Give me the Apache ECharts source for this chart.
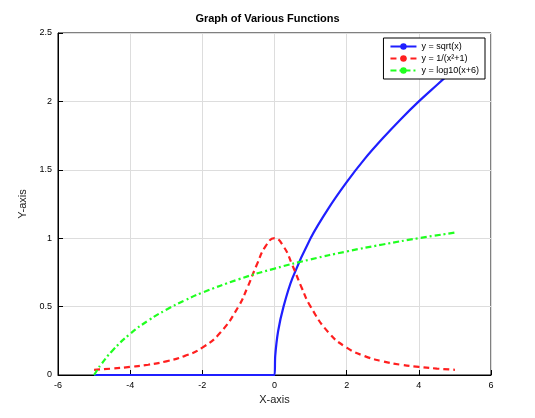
<!DOCTYPE html>
<html>
<head>
<meta charset="utf-8">
<script src="https://cdn.jsdelivr.net/npm/echarts@6/dist/echarts.min.js"></script>
<style>html,body{margin:0;padding:0;background:#fff}#main{width:535px;height:418px}</style>
</head>
<body>
<div id="main"></div>
<script>
// values
var sqrtX = [-5, -4, -3, -2, -1, 0, 0.02, 0.1, 0.25, 0.5, 1, 1.5, 2, 2.5, 3, 3.5, 4, 4.5, 5];
var sqrtY = [0, 0, 0, 0, 0, 0, 0.14, 0.32, 0.5, 0.71, 1, 1.22, 1.41, 1.58, 1.73, 1.87, 2, 2.12, 2.24];
var recipX = [-5, -4.5, -4, -3.5, -3, -2.5, -2, -1.5, -1, -0.75, -0.5, -0.25, 0, 0.25, 0.5, 0.75, 1, 1.5, 2, 2.5, 3, 3.5, 4, 4.5, 5];
var recipY = [0.038, 0.047, 0.059, 0.075, 0.1, 0.138, 0.2, 0.31, 0.5, 0.64, 0.8, 0.94, 1, 0.94, 0.8, 0.64, 0.5, 0.31, 0.2, 0.138, 0.1, 0.075, 0.059, 0.047, 0.038];
var logX = [-5, -4.9, -4.8, -4.5, -4, -3.5, -3, -2.5, -2, -1, 0, 1, 2, 3, 4, 5];
var logY = [0, 0.041, 0.079, 0.176, 0.301, 0.398, 0.477, 0.544, 0.602, 0.699, 0.778, 0.845, 0.903, 0.954, 1, 1.041];

function pairs(xs, ys) {
    return xs.map(function (x, i) { return [x, ys[i]]; });
}

var chart = echarts.init(document.getElementById('main'));
var font = 'Liberation Sans, Arial, sans-serif';
var option = {
    backgroundColor: '#fff',
    animation: false,
    title: {
        text: 'Graph of Various Functions',
        left: 'center', top: 8,
        textStyle: {fontSize: 11, fontWeight: 'bold', color: '#000', fontFamily: font}
    },
    grid: {left: 58, right: 44, top: 33, bottom: 43, show: true, borderColor: '#000', borderWidth: 1},
    legend: {
        right: 50, top: 38, orient: 'vertical', z: 10,
        backgroundColor: '#fff', borderColor: '#000', borderWidth: 1,
        padding: [4, 6], itemGap: 3, itemWidth: 26, itemHeight: 8,
        textStyle: {fontSize: 9, fontFamily: font, color: '#000'},
        data: ['y = sqrt(x)', 'y = 1/(x²+1)', 'y = log10(x+6)']
    },
    xAxis: {
        type: 'value', min: -6, max: 6, interval: 2,
        name: 'X-axis', nameLocation: 'middle', nameGap: 18,
        nameTextStyle: {fontSize: 11, fontFamily: font, color: '#222'},
        axisLine: {onZero: false, lineStyle: {color: '#000'}},
        axisTick: {inside: true, lineStyle: {color: '#000'}},
        axisLabel: {fontSize: 9, fontFamily: font, color: '#000', margin: 6},
        splitLine: {lineStyle: {color: '#ddd'}}
    },
    yAxis: {
        type: 'value', min: 0, max: 2.5, interval: 0.5,
        name: 'Y-axis', nameLocation: 'middle', nameGap: 30,
        nameTextStyle: {fontSize: 11, fontFamily: font, color: '#222'},
        axisLine: {show: true, onZero: false, lineStyle: {color: '#000'}},
        axisTick: {show: true, inside: true, lineStyle: {color: '#000'}},
        axisLabel: {fontSize: 9, fontFamily: font, color: '#000', margin: 6},
        splitLine: {lineStyle: {color: '#ddd'}}
    },
    series: [
        {
            name: 'y = sqrt(x)', type: 'line', symbol: 'none', smooth: 0.3, z: 2,
            lineStyle: {color: '#1f1fff', width: 2.2}, itemStyle: {color: '#1f1fff'},
            data: pairs(sqrtX, sqrtY)
        },
        {
            name: 'y = 1/(x²+1)', type: 'line', symbol: 'none', smooth: true, z: 2,
            lineStyle: {color: '#ff1f1f', width: 2.2, type: [6, 4]}, itemStyle: {color: '#ff1f1f'},
            data: pairs(recipX, recipY)
        },
        {
            name: 'y = log10(x+6)', type: 'line', symbol: 'none', smooth: true, z: 2,
            lineStyle: {color: '#1fff1f', width: 2.2, type: [6, 3, 2, 3]}, itemStyle: {color: '#1fff1f'},
            data: pairs(logX, logY)
        }
    ]
};
chart.setOption(option);
</script>
</body>
</html>
